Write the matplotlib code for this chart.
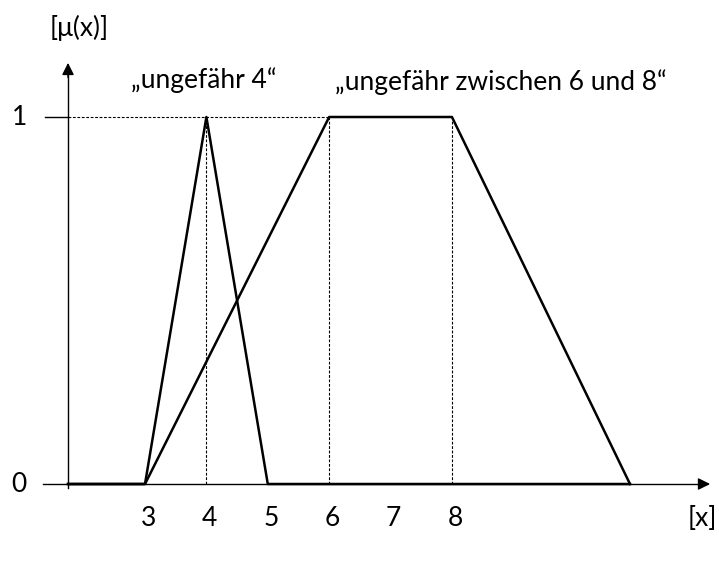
import matplotlib
matplotlib.use("Agg")
import matplotlib.pyplot as plt

# membership functions
tri_x = [3, 4, 5]
tri_mu = [0, 1, 0]
trap_x = [3, 6, 8, 10.9]
trap_mu = [0, 1, 1, 0]
tick_vals = [3, 4, 5, 6, 7, 8]
dashed_x = [4, 6, 8]
label_tri = "\u201eungefähr 4\u201c"
label_trap = "\u201eungefähr zwischen 6 und 8\u201c"

plt.rcParams['font.family'] = ['Lato', 'DejaVu Sans']

fig = plt.figure(figsize=(7.19, 5.65), dpi=100)
ax = fig.add_axes([0, 0, 1, 1])
ax.set_xlim(0.638, 12.35)
ax.set_ylim(-0.2207, 1.3188)
ax.axis('off')

x0 = 1.746   # y axis position
x_end = 12.25
fs = 19

# axes with arrows
ax.plot([1.34, x_end - 0.1], [0, 0], color='black', lw=1)
ax.annotate('', xy=(x_end, 0), xytext=(x_end - 0.2, 0),
            arrowprops=dict(arrowstyle='-|>', color='black', lw=1, mutation_scale=18))
ax.plot([x0, x0], [-0.012, 1.12], color='black', lw=1)
ax.annotate('', xy=(x0, 1.155), xytext=(x0, 1.1),
            arrowprops=dict(arrowstyle='-|>', color='black', lw=1, mutation_scale=18))
ax.plot([1.37, x0], [1, 1], color='black', lw=1)

# dashed helper lines
ax.plot([x0, 6], [1, 1], color='black', lw=0.8, ls=(0, (2.5, 1.5)))
for xv in dashed_x:
    ax.plot([xv, xv], [0, 1], color='black', lw=0.8, ls=(0, (2.5, 1.5)))

# membership functions
ax.plot([x0] + tri_x + [trap_x[-1]], [0] + tri_mu + [0], color='black', lw=1.8)
ax.plot([x0] + trap_x, [0] + trap_mu, color='black', lw=1.8)

# labels
ax.text(1.92, 1.2425, "[\u03bc(x)]", fontsize=fs, ha='center', va='center')
ax.text(0.948, 1, "1", fontsize=fs, ha='center', va='center')
ax.text(0.948, 0, "0", fontsize=fs, ha='center', va='center')
for t in tick_vals:
    ax.text(t + 0.05, -0.095, str(t), fontsize=fs, ha='center', va='center')
ax.text(12.32, -0.095, "[x]", fontsize=fs, ha='right', va='center')
ax.text(3.95, 1.10, label_tri, fontsize=fs, ha='center', va='center')
ax.text(8.8, 1.095, label_trap, fontsize=fs, ha='center', va='center')

fig.savefig("out.png", dpi=100)
